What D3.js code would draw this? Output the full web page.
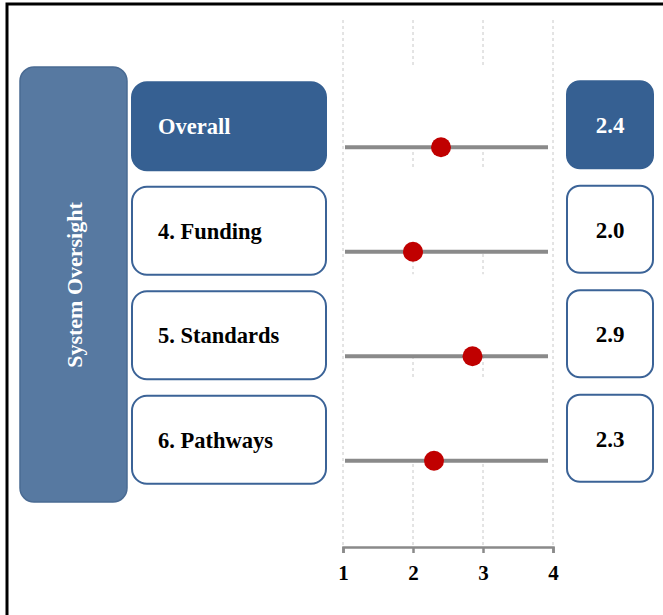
<!DOCTYPE html>
<html>
<head>
<meta charset="utf-8">
<script src="https://cdn.jsdelivr.net/npm/d3@7"></script>
<style>
  body { margin: 0; background: #fff; }
  text { font-family: "Liberation Serif", "Times New Roman", serif; font-weight: bold; }
</style>
</head>
<body>
<div id="chart"></div>
<script>
const groupName = 'System Oversight';
const categories = ['Overall', '4. Funding', '5. Standards', '6. Pathways'];
const scores = [2.4, 2.0, 2.85, 2.3];
const valueLabels = ['2.4', '2.0', '2.9', '2.3'];
const xTicks = [1, 2, 3, 4];

const width = 663;
const height = 615;

const blueDark = '#366092';
const blueMid = '#5779a1';
const boxStroke = '#3b6397';

const svg = d3.select('#chart').append('svg').attr('width', width).attr('height', height);

// outer frame (right/bottom edges fall outside the picture)
svg.append('rect').attr('x', 7).attr('y', 4).attr('width', 700).attr('height', 700)
  .attr('fill', 'none').attr('stroke', '#000').attr('stroke-width', 3);

const x = d3.scaleLinear().domain([1, 4]).range([343, 553]);
const y = d3.scaleBand().domain(categories).range([74, 492]);
const rowMid = (d) => y(d) + y.bandwidth() / 2;
const lineY = (d) => rowMid(d) + 21;

// gridlines
svg.append('g').selectAll('line').data(xTicks).join('line')
  .attr('x1', (d) => x(d)).attr('x2', (d) => x(d))
  .attr('y1', 20).attr('y2', 545)
  .attr('stroke', '#c8c8c8').attr('stroke-width', 1).attr('stroke-dasharray', '3,3');

// white blocks hiding inner gridlines above each row line
svg.append('g').selectAll('rect').data(categories).join('rect')
  .attr('x', x(1) + 2).attr('width', x(4) - x(1) - 4)
  .attr('y', (d) => lineY(d) - 82).attr('height', 82)
  .attr('fill', '#fff');

// range lines
svg.append('g').selectAll('line').data(categories).join('line')
  .attr('x1', x(1) + 2).attr('x2', x(4) - 5)
  .attr('y1', lineY).attr('y2', lineY)
  .attr('stroke', '#8a8a8a').attr('stroke-width', 4);

// dots
svg.append('g').selectAll('circle').data(categories).join('circle')
  .attr('cx', (d, i) => x(scores[i])).attr('cy', lineY).attr('r', 10)
  .attr('fill', '#c00000');

// axis
const axis = svg.append('g').attr('transform', 'translate(0,547)')
  .call(d3.axisBottom(x).tickValues(xTicks).tickFormat(d3.format('d')).tickSizeOuter(0).tickSize(6).tickPadding(12));
axis.select('.domain').attr('stroke', '#8a8a8a').attr('stroke-width', 2.5);
axis.selectAll('.tick line').attr('stroke', '#8a8a8a').attr('stroke-width', 2.5);
axis.selectAll('.tick text').attr('font-size', 21).attr('fill', '#000')
  .attr('font-family', '"Liberation Serif", serif').attr('font-weight', 'bold');

// group box
svg.append('rect').attr('x', 20).attr('y', 67).attr('width', 107).attr('height', 435)
  .attr('rx', 14).attr('fill', blueMid).attr('stroke', '#4a6b93').attr('stroke-width', 1.5);
svg.append('text').attr('transform', 'translate(82,285) rotate(-90)')
  .attr('text-anchor', 'middle').attr('font-size', 22).attr('fill', '#fff').text(groupName);

// category boxes
const catBoxes = svg.append('g').selectAll('g').data(categories).join('g');
catBoxes.append('rect')
  .attr('x', 132).attr('width', 194)
  .attr('y', (d) => rowMid(d) - 44).attr('height', 88).attr('rx', 15)
  .attr('fill', (d, i) => (i === 0 ? blueDark : '#fff'))
  .attr('stroke', (d, i) => (i === 0 ? blueDark : boxStroke)).attr('stroke-width', 2);
catBoxes.append('text')
  .attr('x', 158).attr('y', (d) => rowMid(d) + 8)
  .attr('font-size', 22.5).attr('fill', (d, i) => (i === 0 ? '#fff' : '#000'))
  .text((d) => d);

// value boxes
const valBoxes = svg.append('g').selectAll('g').data(categories).join('g');
valBoxes.append('rect')
  .attr('x', 567).attr('width', 86)
  .attr('y', (d) => rowMid(d) - 45).attr('height', 87).attr('rx', 13)
  .attr('fill', (d, i) => (i === 0 ? blueDark : '#fff'))
  .attr('stroke', (d, i) => (i === 0 ? blueDark : boxStroke)).attr('stroke-width', 2);
valBoxes.append('text')
  .attr('x', 610).attr('y', (d) => rowMid(d) + 7)
  .attr('text-anchor', 'middle')
  .attr('font-size', 23).attr('fill', (d, i) => (i === 0 ? '#fff' : '#000'))
  .text((d, i) => valueLabels[i]);
</script>
</body>
</html>
